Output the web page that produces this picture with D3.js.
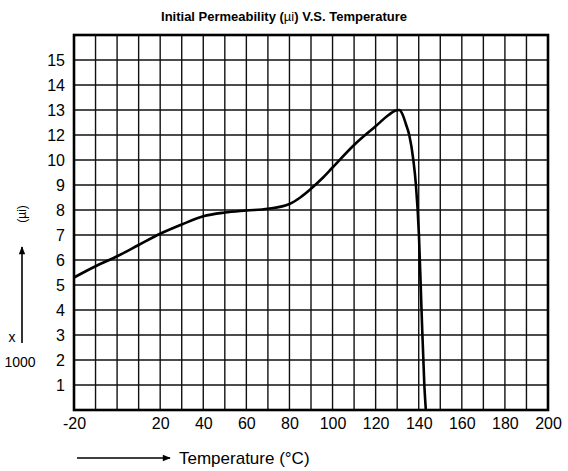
<!DOCTYPE html>
<html>
<head>
<meta charset="utf-8">
<script src="https://cdn.jsdelivr.net/npm/d3@7"></script>
<style>
  html, body { margin: 0; padding: 0; background: #fff; }
  svg { display: block; font-family: "Liberation Sans", Arial, Helvetica, sans-serif; }
</style>
</head>
<body>
<svg id="chart" width="568" height="471"></svg>
<script>
// ---- data ----
const temperatures = [-20, -10, 0, 10, 20, 30, 40, 50, 60, 70, 80, 85, 90, 95, 100, 110, 120, 126, 129, 131, 132.5, 134, 135.6, 137.5, 138.7, 140.1, 141.3, 142.6, 143.3];
const permeability = [5.3, 5.75, 6.15, 6.6, 7.05, 7.42, 7.75, 7.9, 7.98, 8.05, 8.24, 8.5, 8.85, 9.25, 9.7, 11.2, 12.35, 12.8, 12.97, 13.0, 12.82, 12.45, 12.0, 10.0, 9.0, 7.0, 4.0, 1.0, 0.0];
const xTickLabels = [-20, 20, 40, 60, 80, 100, 120, 140, 160, 180, 200];
const xGridValues = d3.range(-20, 201, 10);
// the original sheet skips "11" on its value axis
const yTickLabels = [1, 2, 3, 4, 5, 6, 7, 8, 9, 10, 12, 13, 14, 15];
const titleParts = ["Initial Permeability (", "\u00b5i", ") V.S. Temperature"];
const xAxisTitle = "Temperature (\u00b0C)";
const yAxisTitle = "(\u00b5i)";
const yMultiplier = ["x", "1000"];

// ---- layout ----
const svg = d3.select("#chart");
const pLeft = 74, pRight = 548, pTop = 35, pBottom = 410;
const row = (pBottom - pTop) / 15;

const x = d3.scaleLinear().domain([-20, 200]).range([pLeft, pRight]);
// piecewise: uniform grid rows, label sequence jumps 10 -> 12
const y = d3.scaleLinear()
  .domain([0, 10, 12, 16])
  .range([pBottom, pBottom - 10 * row, pBottom - 11 * row, pTop]);

// grid
const g = svg.append("g");
g.selectAll("line.vg").data(xGridValues).join("line")
  .attr("x1", d => x(d)).attr("x2", d => x(d))
  .attr("y1", pTop).attr("y2", pBottom)
  .attr("stroke", "#111").attr("stroke-width", 1.4);
g.selectAll("line.hg").data(yTickLabels).join("line")
  .attr("x1", pLeft).attr("x2", pRight)
  .attr("y1", d => y(d)).attr("y2", d => y(d))
  .attr("stroke", "#111").attr("stroke-width", 1.4);
g.append("rect")
  .attr("x", pLeft).attr("y", pTop)
  .attr("width", pRight - pLeft).attr("height", pBottom - pTop)
  .attr("fill", "none").attr("stroke", "#000").attr("stroke-width", 2.6);

// axes (labels only, via d3 axes)
const xAxis = svg.append("g")
  .attr("transform", `translate(0,${pBottom + 8})`)
  .call(d3.axisBottom(x).tickValues(xTickLabels).tickSize(0).tickPadding(0).tickFormat(d => String(d)));
xAxis.select(".domain").remove();
xAxis.selectAll("text").attr("font-size", 16).attr("fill", "#000")
  .attr("font-family", "Liberation Sans, Arial, sans-serif");

const yAxis = svg.append("g")
  .attr("transform", `translate(${pLeft - 9},0)`)
  .call(d3.axisLeft(y).tickValues(yTickLabels).tickSize(0).tickPadding(0).tickFormat(d => String(d)));
yAxis.select(".domain").remove();
yAxis.selectAll("text").attr("font-size", 16).attr("fill", "#000")
  .attr("font-family", "Liberation Sans, Arial, sans-serif");

// curve
const pts = temperatures.map((t, i) => [t, permeability[i]]);
svg.append("path")
  .datum(pts)
  .attr("fill", "none").attr("stroke", "#000").attr("stroke-width", 2.6)
  .attr("stroke-linejoin", "round")
  .attr("d", d3.line().x(d => x(d[0])).y(d => y(d[1])).curve(d3.curveMonotoneX));

// title
const title = svg.append("text")
  .attr("x", 284).attr("y", 21)
  .attr("text-anchor", "middle")
  .attr("font-size", 13).attr("font-weight", "bold").attr("fill", "#000");
title.append("tspan").text(titleParts[0]);
title.append("tspan").attr("font-weight", "normal").text(titleParts[1]);
title.append("tspan").text(titleParts[2]);

// arrowheads
const defs = svg.append("defs");
defs.append("marker").attr("id", "arr")
  .attr("viewBox", "0 0 10 10").attr("refX", 9).attr("refY", 5)
  .attr("markerWidth", 10).attr("markerHeight", 8)
  .attr("markerUnits", "userSpaceOnUse")
  .attr("orient", "auto")
  .append("path").attr("d", "M0,1 L10,5 L0,9 Z").attr("fill", "#000");

// x-axis title with arrow
svg.append("line")
  .attr("x1", 77).attr("x2", 170).attr("y1", 458).attr("y2", 458)
  .attr("stroke", "#000").attr("stroke-width", 1.6)
  .attr("marker-end", "url(#arr)");
svg.append("text")
  .attr("x", 179).attr("y", 464)
  .attr("font-size", 17).attr("fill", "#000")
  .text(xAxisTitle);

// y-axis title with arrow
svg.append("text")
  .attr("transform", "translate(26,214) rotate(-90)")
  .attr("text-anchor", "middle")
  .attr("font-size", 12).attr("fill", "#000")
  .text(yAxisTitle);
svg.append("line")
  .attr("x1", 22).attr("x2", 22).attr("y1", 343).attr("y2", 247)
  .attr("stroke", "#000").attr("stroke-width", 1.6)
  .attr("marker-end", "url(#arr)");
svg.append("text")
  .attr("x", 12).attr("y", 342)
  .attr("text-anchor", "middle")
  .attr("font-size", 14).attr("fill", "#000")
  .text(yMultiplier[0]);
svg.append("text")
  .attr("x", 20).attr("y", 367)
  .attr("text-anchor", "middle")
  .attr("font-size", 14).attr("fill", "#000")
  .text(yMultiplier[1]);
</script>
</body>
</html>
